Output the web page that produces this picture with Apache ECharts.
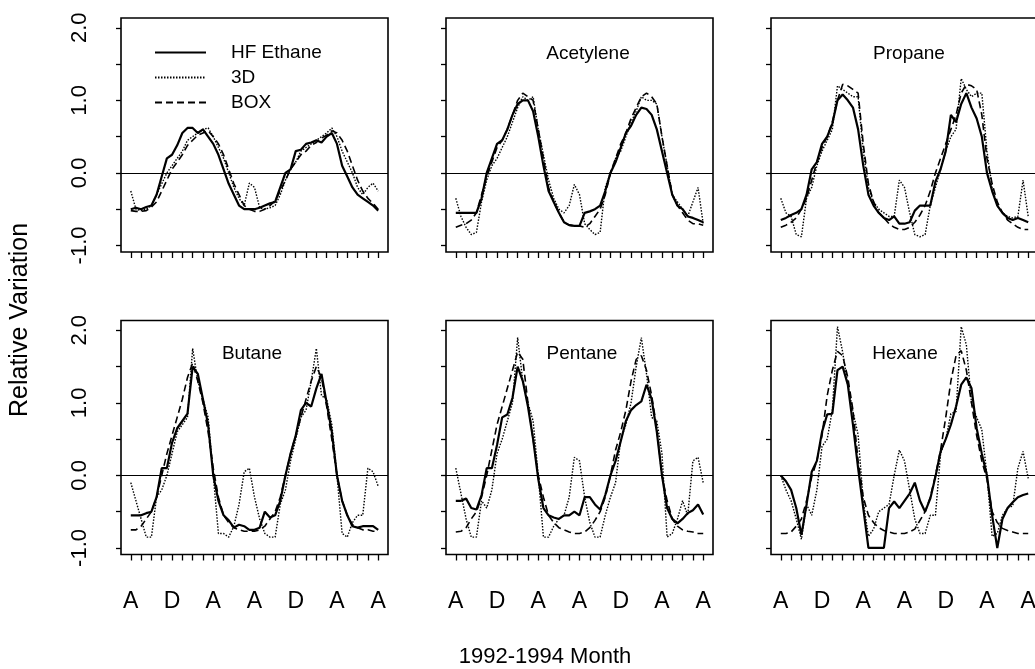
<!DOCTYPE html>
<html>
<head>
<meta charset="utf-8">
<script src="https://cdn.jsdelivr.net/npm/echarts@6/dist/echarts.min.js"></script>
<style>
html,body{margin:0;padding:0;background:#fff;}
#chart{width:1035px;height:669px;}
</style>
</head>
<body>
<div id="chart"></div>
<script>
// ---------- data ----------
const months = [0,0.5,1,1.5,2,2.5,3,3.5,4,4.5,5,5.5,6,6.5,7,7.5,8,8.5,9,9.5,10,10.5,11,11.5,12,12.5,13,13.5,14,14.5,15,15.5,16,16.5,17,17.5,18,18.5,19,19.5,20,20.5,21,21.5,22,22.5,23,23.5,24];
const monthTicks = [0,1,2,3,4,5,6,7,8,9,10,11,12,13,14,15,16,17,18,19,20,21,22,23,24];
const xLabelMonths = [0,4,8,12,16,20,24];
const xTickLabels = ['A','D','A','A','D','A','A'];
const yTickValues = [-1,-0.5,0,0.5,1,1.5,2];
const yLabelValues = [-1,0,1,2];
const seriesNames = ['HF Ethane','3D','BOX'];
const panelTitles = ['','Acetylene','Propane','Butane','Pentane','Hexane'];

const ethaneHF = [-0.5,-0.48,-0.5,-0.47,-0.45,-0.3,-0.05,0.2,0.25,0.38, 0.55,0.62,0.62,0.55,0.6,0.5,0.4,0.25,0.05,-0.15, -0.3,-0.45,-0.5,-0.5,-0.5,-0.48,-0.45,-0.42,-0.4,-0.2, 0.0,0.05,0.3,0.32,0.4,0.42,0.45,0.42,0.5,0.55, 0.4,0.1,-0.05,-0.2,-0.3,-0.35,-0.4,-0.45,-0.52];
const ethane3D = [-0.25,-0.5,-0.52,-0.5,-0.45,-0.3,-0.15,0.0,0.1,0.2, 0.3,0.45,0.5,0.55,0.6,0.62,0.5,0.35,0.2,0.0, -0.2,-0.35,-0.45,-0.14,-0.2,-0.48,-0.5,-0.48,-0.45,-0.3, -0.1,0.05,0.15,0.3,0.35,0.4,0.45,0.5,0.55,0.62, 0.5,0.3,0.15,0.0,-0.2,-0.3,-0.2,-0.14,-0.25];
const ethaneBOX = [-0.52,-0.53,-0.53,-0.52,-0.47,-0.4,-0.25,-0.1,0.05,0.15, 0.25,0.38,0.45,0.52,0.55,0.58,0.5,0.4,0.25,0.05, -0.15,-0.3,-0.45,-0.5,-0.53,-0.53,-0.5,-0.45,-0.38,-0.25, -0.1,0.05,0.15,0.25,0.3,0.38,0.42,0.48,0.52,0.58, 0.55,0.45,0.3,0.1,-0.1,-0.25,-0.35,-0.42,-0.5];

const acetyleneHF = [-0.55,-0.55,-0.55,-0.55,-0.55,-0.35,0.0,0.2,0.4,0.45, 0.6,0.8,0.95,1.0,1.0,0.85,0.5,0.1,-0.25,-0.4, -0.55,-0.68,-0.72,-0.73,-0.73,-0.55,-0.53,-0.5,-0.45,-0.25, 0.0,0.15,0.35,0.55,0.65,0.8,0.9,0.88,0.8,0.6, 0.3,0.0,-0.3,-0.45,-0.5,-0.6,-0.62,-0.65,-0.68];
const acetylene3D = [-0.35,-0.6,-0.75,-0.85,-0.82,-0.4,-0.1,0.1,0.2,0.35, 0.5,0.7,0.9,1.05,1.0,1.05,0.6,0.25,-0.1,-0.35, -0.5,-0.55,-0.45,-0.16,-0.3,-0.7,-0.78,-0.85,-0.82,-0.2, 0.0,0.2,0.3,0.5,0.7,0.85,1.05,1.0,1.0,0.95, 0.5,0.1,-0.3,-0.4,-0.5,-0.6,-0.4,-0.2,-0.7];
const acetyleneBOX = [-0.75,-0.72,-0.7,-0.65,-0.55,-0.3,-0.05,0.15,0.35,0.45, 0.6,0.8,1.0,1.1,1.05,1.0,0.6,0.2,-0.2,-0.4, -0.55,-0.68,-0.72,-0.73,-0.73,-0.75,-0.7,-0.6,-0.5,-0.3, 0.0,0.2,0.4,0.55,0.75,0.9,1.05,1.1,1.05,0.95, 0.5,0.1,-0.3,-0.45,-0.55,-0.65,-0.7,-0.7,-0.72];

const propaneHF = [-0.65,-0.62,-0.58,-0.55,-0.5,-0.3,0.05,0.15,0.4,0.5, 0.68,1.0,1.08,1.0,0.9,0.6,0.1,-0.3,-0.45,-0.55, -0.62,-0.65,-0.6,-0.7,-0.7,-0.68,-0.52,-0.45,-0.45,-0.45, -0.12,0.05,0.3,0.8,0.7,0.95,1.1,0.9,0.75,0.5, 0.0,-0.25,-0.45,-0.55,-0.62,-0.65,-0.62,-0.65,-0.68];
const propane3D = [-0.35,-0.55,-0.6,-0.85,-0.88,-0.35,-0.2,0.1,0.3,0.45, 0.6,1.2,1.15,1.1,1.05,1.05,0.3,-0.2,-0.4,-0.5, -0.55,-0.6,-0.6,-0.1,-0.2,-0.55,-0.85,-0.88,-0.85,-0.45, -0.2,0.05,0.3,0.5,0.6,1.3,1.15,1.05,1.1,1.1, 0.3,-0.2,-0.45,-0.55,-0.6,-0.62,-0.6,-0.1,-0.6];
const propaneBOX = [-0.75,-0.72,-0.68,-0.62,-0.5,-0.35,-0.1,0.15,0.35,0.5, 0.7,1.0,1.22,1.2,1.15,1.1,0.4,-0.15,-0.4,-0.55, -0.62,-0.7,-0.75,-0.78,-0.78,-0.75,-0.68,-0.58,-0.45,-0.25, 0.0,0.2,0.4,0.6,0.8,1.1,1.22,1.2,1.15,0.8, 0.2,-0.15,-0.4,-0.55,-0.65,-0.7,-0.75,-0.78,-0.78];

const butaneHF = [-0.55,-0.55,-0.55,-0.52,-0.5,-0.3,0.1,0.1,0.45,0.65, 0.75,0.85,1.5,1.4,1.05,0.7,0.0,-0.35,-0.55,-0.62, -0.72,-0.68,-0.7,-0.75,-0.75,-0.72,-0.5,-0.58,-0.55,-0.35, 0.0,0.3,0.55,0.9,1.0,0.95,1.2,1.4,1.0,0.6, 0.0,-0.35,-0.55,-0.7,-0.72,-0.7,-0.7,-0.7,-0.75];
const butane3D = [-0.1,-0.35,-0.6,-0.85,-0.85,-0.3,-0.2,0.0,0.3,0.6, 0.7,0.8,1.75,1.3,1.05,0.8,0.0,-0.8,-0.8,-0.85, -0.7,-0.4,0.05,0.1,-0.3,-0.6,-0.8,-0.85,-0.85,-0.4, -0.2,0.2,0.5,0.8,0.9,1.3,1.75,1.1,1.05,0.7, 0.0,-0.8,-0.85,-0.65,-0.55,-0.55,0.1,0.05,-0.15];
const butaneBOX = [-0.75,-0.75,-0.7,-0.6,-0.5,-0.3,0.0,0.3,0.55,0.8, 1.05,1.35,1.55,1.3,1.0,0.6,0.1,-0.3,-0.55,-0.65, -0.72,-0.75,-0.77,-0.77,-0.77,-0.75,-0.7,-0.6,-0.5,-0.3, 0.0,0.3,0.55,0.8,1.05,1.3,1.5,1.35,0.95,0.5, 0.0,-0.35,-0.55,-0.68,-0.72,-0.75,-0.75,-0.77,-0.77];

const pentaneHF = [-0.35,-0.35,-0.32,-0.45,-0.47,-0.27,0.1,0.1,0.42,0.8, 0.84,1.07,1.5,1.3,0.95,0.5,-0.05,-0.45,-0.55,-0.58, -0.6,-0.55,-0.55,-0.5,-0.55,-0.3,-0.3,-0.4,-0.47,-0.27, 0.0,0.2,0.47,0.75,0.9,0.97,1.02,1.25,1.05,0.6, 0.0,-0.45,-0.6,-0.66,-0.6,-0.52,-0.48,-0.4,-0.54];
const pentane3D = [0.1,-0.25,-0.6,-0.85,-0.85,-0.35,-0.45,-0.2,0.3,0.5, 0.75,1.0,1.9,1.3,1.0,0.75,0.0,-0.85,-0.85,-0.7, -0.6,-0.55,-0.3,0.25,0.2,-0.3,-0.65,-0.85,-0.85,-0.55, -0.3,-0.1,0.5,0.7,1.0,1.5,1.9,1.4,0.8,0.75, 0.3,-0.85,-0.8,-0.6,-0.35,-0.55,0.2,0.25,-0.1];
const pentaneBOX = [-0.78,-0.77,-0.72,-0.6,-0.5,-0.3,0.0,0.35,0.7,0.95, 1.2,1.45,1.7,1.6,1.0,0.5,0.0,-0.3,-0.55,-0.65, -0.72,-0.75,-0.78,-0.8,-0.8,-0.78,-0.72,-0.62,-0.5,-0.3, 0.0,0.35,0.6,0.9,1.3,1.6,1.65,1.45,1.1,0.65, 0.0,-0.35,-0.6,-0.7,-0.75,-0.77,-0.78,-0.8,-0.8];

const hexaneHF = [0.0,-0.08,-0.2,-0.45,-0.82,-0.4,0.05,0.2,0.6,0.84, 0.85,1.45,1.5,1.25,0.7,0.1,-0.45,-1.0,-1.0,-1.0, -1.0,-0.45,-0.36,-0.45,-0.35,-0.25,-0.1,-0.35,-0.5,-0.32, -0.02,0.33,0.5,0.7,0.95,1.25,1.35,1.2,0.65,0.3, 0.0,-0.55,-1.0,-0.6,-0.45,-0.37,-0.3,-0.27,-0.25];
const hexane3D = [0.0,-0.2,-0.35,-0.6,-0.88,-0.4,-0.55,-0.2,0.4,0.5, 0.9,2.05,1.7,1.25,0.88,0.56,-0.36,-0.84,-0.74,-0.5, -0.45,-0.4,0.0,0.35,0.2,-0.2,-0.6,-0.8,-0.8,-0.55, -0.55,0.3,0.5,0.85,0.88,2.05,1.8,1.0,0.8,0.63, 0.0,-0.84,-0.8,-0.55,-0.45,-0.42,0.1,0.33,-0.04];
const hexaneBOX = [-0.8,-0.8,-0.78,-0.7,-0.6,-0.35,-0.02,0.2,0.55,1.1, 1.45,1.71,1.65,1.35,0.9,0.2,-0.3,-0.55,-0.65,-0.72, -0.76,-0.78,-0.8,-0.8,-0.8,-0.78,-0.74,-0.62,-0.5,-0.3, 0.0,0.35,0.8,1.3,1.65,1.72,1.45,1.0,0.55,0.2, -0.05,-0.5,-0.65,-0.73,-0.76,-0.78,-0.8,-0.8,-0.8];

const panelData = [
  [ethaneHF, ethane3D, ethaneBOX],
  [acetyleneHF, acetylene3D, acetyleneBOX],
  [propaneHF, propane3D, propaneBOX],
  [butaneHF, butane3D, butaneBOX],
  [pentaneHF, pentane3D, pentaneBOX],
  [hexaneHF, hexane3D, hexaneBOX]
];

// ---------- layout / style ----------
const FONT = "'Liberation Sans', Arial, Helvetica, sans-serif";
const colLeft = [121, 446, 771];
const rowTop = [18, 320.5];
const boxW = 267, boxH = 234;
const titlePos = [null, [588, 44], [909, 44], [252, 344], [582, 344], [905, 344]];
const lineStyles = [
  {color:'#000', width:2.2, type:'solid'},
  {color:'#000', width:1.4, type:[1.5,1.5]},
  {color:'#000', width:1.6, type:[7,4]}
];

const grids = [], xAxes = [], yAxes = [], series = [], titles = [];
for (let p = 0; p < 6; p++) {
  const col = p % 3, row = Math.floor(p / 3);
  grids.push({
    left: colLeft[col], top: rowTop[row], width: boxW, height: boxH,
    show: true, borderColor: '#000', borderWidth: 1.6, backgroundColor: 'transparent',
    containLabel: false, outerBoundsMode: 'none'
  });
  xAxes.push({
    gridIndex: p, type: 'value', min: -0.95, max: 24.95, position: 'bottom',
    axisLine: {show: false, onZero: false},
    splitLine: {show: false},
    axisTick: {show: true, customValues: monthTicks, length: 6, lineStyle: {color:'#000', width: 1.3}},
    axisLabel: {
      show: row === 1, customValues: xLabelMonths, margin: 36,
      fontSize: 23, color: '#000', fontFamily: FONT,
      formatter: v => xTickLabels[xLabelMonths.indexOf(Math.round(v))] || ''
    }
  });
  yAxes.push({
    gridIndex: p, type: 'value', min: -1.09, max: 2.135,
    axisLine: {show: false, onZero: false},
    splitLine: {show: false},
    axisTick: {show: true, customValues: yTickValues, length: 5, lineStyle: {color:'#000', width: 1.3}},
    axisLabel: {
      show: col === 0, customValues: yLabelValues, rotate: 90, margin: 30,
      fontSize: 22, color: '#000', fontFamily: FONT,
      formatter: v => Number(v).toFixed(1)
    }
  });
  // draw BOX, 3D, then HF on top
  [2, 1, 0].forEach(k => {
    const s = {
      name: seriesNames[k], type: 'line', xAxisIndex: p, yAxisIndex: p,
      data: months.map((m, i) => [m, panelData[p][k][i]]),
      symbol: 'none', showSymbol: false, smooth: false, animation: false,
      lineStyle: lineStyles[k], itemStyle: {color: '#000'},
      z: 3 - k, silent: true
    };
    if (k === 0) {
      s.markLine = {
        silent: true, symbol: ['none','none'], animation: false,
        label: {show: false},
        lineStyle: {color:'#000', width: 1.2, type: 'solid'},
        data: [{yAxis: 0}]
      };
    }
    series.push(s);
  });
  if (panelTitles[p]) {
    titles.push({
      text: panelTitles[p], left: titlePos[p][0], top: titlePos[p][1], textAlign: 'center',
      padding: 0,
      textStyle: {fontSize: 19, fontWeight: 'normal', color: '#000', fontFamily: FONT}
    });
  }
}
titles.push({
  text: '1992-1994 Month', left: 545, top: 646, textAlign: 'center', padding: 0,
  textStyle: {fontSize: 22, fontWeight: 'normal', color: '#000', fontFamily: FONT}
});

const chart = echarts.init(document.getElementById('chart'), null, {renderer: 'canvas'});
chart.setOption({
  animation: false,
  backgroundColor: '#fff',
  title: titles,
  legend: {
    data: seriesNames, orient: 'vertical', left: 154, top: 43, padding: 0,
    itemWidth: 51, itemHeight: 14, itemGap: 6, selectedMode: false,
    itemStyle: {opacity: 0, color: 'transparent', borderWidth: 0},
    textStyle: {fontSize: 19, color: '#000', fontFamily: FONT, padding: [0,0,0,20]}
  },
  grid: grids,
  xAxis: xAxes,
  yAxis: yAxes,
  series: series,
  graphic: [{
    type: 'text', x: 20, y: 320, rotation: Math.PI / 2,
    style: {text: 'Relative Variation', fontSize: 25, fontFamily: FONT, fill: '#000',
            textAlign: 'center', textVerticalAlign: 'middle'}
  }]
});
</script>
</body>
</html>
